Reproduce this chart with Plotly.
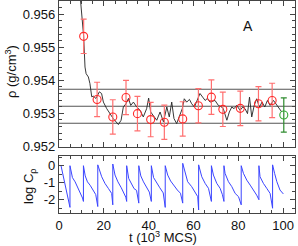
import plotly.graph_objects as go
from plotly.subplots import make_subplots

# ---- data: density trace (black) ----
rho_t = [8.6, 9.5, 10.3, 11.0, 11.6, 12.1, 13.1, 13.8, 14.6, 15.3, 16.5, 18.0, 19.0, 19.8,
         21.3, 22.8, 24.2, 26.5, 27.7, 28.7, 29.9, 31.0, 32.0, 33.2, 34.7, 36.2, 37.6,
         39.1, 40.0, 40.9, 42.1, 43.6, 45.1, 46.6, 48.1, 49.2, 50.3, 51.3, 52.5, 53.7,
         55.0, 55.9, 57.0, 58.2, 59.2, 60.4, 61.7, 62.9, 64.1, 65.2, 66.2, 67.4, 69.6,
         71.1, 72.6, 73.3, 74.9, 76.0, 77.1, 78.1, 79.3, 80.8, 82.0, 83.0, 84.1, 85.0,
         86.0, 87.1, 88.2, 89.4, 90.6, 91.8, 93.0, 94.2, 95.7, 97.2, 98.3, 99.4]
rho_v = [0.9572, 0.9564, 0.9558, 0.95533, 0.9544, 0.9542, 0.9541, 0.9539, 0.9535, 0.95352,
         0.95345, 0.95365, 0.9536, 0.95334, 0.95314, 0.95299, 0.95284, 0.95266, 0.95279,
         0.95319, 0.95329, 0.95345, 0.95324, 0.95334, 0.95319, 0.95309, 0.95289, 0.95314,
         0.95346, 0.95304, 0.95294, 0.95279, 0.95304, 0.95274, 0.95319, 0.95289, 0.95334,
         0.95284, 0.95269, 0.95294, 0.95314, 0.95344, 0.95334, 0.95342, 0.95329, 0.95319,
         0.95339, 0.9536, 0.95349, 0.95339, 0.95345, 0.95334, 0.95339, 0.95324, 0.95319,
         0.95314, 0.95279, 0.95304, 0.95319, 0.95314, 0.95324, 0.95309, 0.95319, 0.95314,
         0.95299, 0.95349, 0.95289, 0.95324, 0.95344, 0.95319, 0.95334, 0.95319, 0.95339,
         0.95324, 0.95339, 0.95324, 0.95314, 0.95304]

# ---- block averages (red) and final (green) ----
blk_t = [11.0, 17.0, 24.0, 29.9, 35.0, 40.9, 47.0, 55.2, 62.2, 68.0, 73.1, 80.9, 89.0, 95.1]
blk_v = [0.95533, 0.95342, 0.95289, 0.95348, 0.95299, 0.95281, 0.95273, 0.95283,
         0.95323, 0.95349, 0.95312, 0.95315, 0.95329, 0.95339]
blk_err = [0.00052] * len(blk_t)
fin_t = [100.3]
fin_v = [0.95295]
fin_err = [0.00052]

# mean and +- std lines
mean_lines = [0.953727, 0.953212, 0.952697]

# ---- autocorrelation (blue) ----
c_t = [0.9, 2.5, 3.8, 4.9, 4.9, 6.0, 7.2, 8.2, 9.5, 10.5, 10.9,
       10.9, 11.7, 12.7, 13.9, 15.3, 16.4, 17.3,
       17.3, 19.05, 20.5, 22.0, 23.5, 24.0,
       24.0, 25.0, 26.3, 27.8, 29.0, 29.8, 30.2,
       30.2, 31.1, 32.3, 33.5, 34.6, 35.6,
       35.6, 36.5, 37.7, 39.0, 40.3, 41.2,
       41.2, 42.2, 43.5, 45.0, 46.5, 47.4,
       47.4, 48.5, 49.8, 51.3, 52.8, 54.2, 55.2,
       55.2, 56.25, 57.4, 59.2, 60.7, 61.9, 62.3,
       62.3, 63.7, 65.2, 66.7, 67.4, 68.0,
       68.0, 68.9, 70.4, 71.9, 72.9, 73.6,
       73.6, 74.1, 75.6, 77.1, 78.6, 80.1, 81.3,
       81.3, 82.3, 83.8, 85.3, 86.8, 88.2, 89.2,
       89.2, 89.7, 91.2, 92.7, 94.2, 95.3,
       95.3, 96.2, 97.2, 98.6, 100.1]
c_v = [0.0, -1.0, -1.8, -2.45, 0.0, -0.7, -0.95, -1.25, -1.55, -1.9, -2.1,
       0.0, -0.6, -0.95, -1.15, -1.45, -1.7, -2.4,
       0.05, -0.65, -1.04, -1.33, -1.63, -2.3,
       0.1, -0.55, -0.95, -1.3, -1.6, -1.85, -2.1,
       0.0, -0.75, -1.1, -1.35, -1.45, -2.2,
       0.0, -0.6, -0.95, -1.25, -1.55, -2.1,
       0.0, -0.7, -1.0, -1.3, -1.6, -2.45,
       0.0, -0.55, -0.9, -1.2, -1.43, -1.62, -2.2,
       0.14, -0.35, -0.94, -1.23, -1.53, -1.82, -2.6,
       0.05, -0.65, -1.04, -1.33, -1.82, -2.1,
       0.0, -0.55, -1.04, -1.33, -1.7, -2.1,
       0.0, -0.45, -0.94, -1.23, -1.63, -1.82, -2.3,
       0.0, -0.45, -0.85, -1.14, -1.43, -1.73, -2.0,
       0.0, -0.65, -1.04, -1.33, -1.63, -2.5,
       0.05, -0.45, -0.94, -1.43, -1.66]

top_yticks = [0.952, 0.953, 0.954, 0.955, 0.956]
bot_yticks = [0, -1, -2]
bot_yticklabels = ["0", "-1", "-2"]
xticks = [0, 20, 40, 60, 80, 100]

FONT = "Liberation Sans, Arial, sans-serif"
FRAME = "#444444"

W, H = 298, 246
ml, mr, mt, mb = 59, 3, 1, 33
ph = H - mt - mb
pw = W - ml - mr
top_dom = [(H - mb - 147) / ph, 1.0]
bot_dom = [0.0, (H - mb - 156) / ph]

fig = make_subplots(rows=2, cols=1, shared_xaxes=False)

for v in mean_lines:
    fig.add_trace(go.Scatter(x=[0, 105.3], y=[v, v], mode="lines",
                             line=dict(color="#555555", width=1.1),
                             showlegend=False, hoverinfo="skip"), row=1, col=1)

fig.add_trace(go.Scatter(x=rho_t, y=rho_v, mode="lines",
                         line=dict(color="#222222", width=0.9),
                         showlegend=False), row=1, col=1)

fig.add_trace(go.Scatter(x=blk_t, y=blk_v, mode="markers",
                         marker=dict(symbol="circle-open", size=8, color="#ff2a2a",
                                     line=dict(width=1.1, color="#ff2a2a")),
                         error_y=dict(type="data", array=blk_err, color="#ff7070",
                                      thickness=1.2, width=3),
                         showlegend=False), row=1, col=1)

fig.add_trace(go.Scatter(x=fin_t, y=fin_v, mode="markers",
                         marker=dict(symbol="circle-open", size=8, color="#33aa33",
                                     line=dict(width=1.1, color="#33aa33")),
                         error_y=dict(type="data", array=fin_err, color="#2e8b2e",
                                      thickness=1.2, width=3),
                         showlegend=False), row=1, col=1)

fig.add_trace(go.Scatter(x=c_t, y=c_v, mode="lines",
                         line=dict(color="#3b45ff", width=1),
                         showlegend=False), row=2, col=1)

axis_common = dict(showline=True, linecolor=FRAME, linewidth=1.2, mirror="allticks",
                   ticks="inside", ticklen=5, tickwidth=1, tickcolor=FRAME,
                   showgrid=False, zeroline=False,
                   tickfont=dict(family=FONT, size=13, color="#111111"))

fig.update_xaxes(**axis_common)
fig.update_yaxes(**axis_common)

fig.update_xaxes(range=[0, 105.3], tickvals=xticks, showticklabels=False,
                 minor=dict(dtick=5, ticklen=3, ticks="inside", tickcolor=FRAME),
                 domain=[0, 1], row=1, col=1)
fig.update_xaxes(range=[0, 105.3], tickvals=xticks, showticklabels=True,
                 minor=dict(dtick=5, ticklen=3, ticks="inside", tickcolor=FRAME),
                 domain=[0, 1], row=2, col=1)
fig.update_yaxes(range=[0.95198, 0.9564], tickvals=top_yticks,
                 ticktext=[f"{v:.3f}" for v in top_yticks],
                 minor=dict(dtick=0.0002, ticklen=3, ticks="inside", tickcolor=FRAME),
                 domain=top_dom, row=1, col=1)
fig.update_yaxes(range=[-2.78, 0.57], tickvals=bot_yticks, ticktext=bot_yticklabels,
                 minor=dict(dtick=0.5, ticklen=3, ticks="inside", tickcolor=FRAME),
                 domain=bot_dom, row=2, col=1)

ann = dict(xref="paper", yref="paper", showarrow=False, xanchor="center",
           yanchor="middle")
fig.add_annotation(text="A", x=(248 - ml) / pw, y=1 - (26 - mt) / ph,
                   font=dict(family=FONT, size=14, color="#111111"), **ann)
fig.add_annotation(text="ρ (g/cm<sup>3</sup>)", x=(11 - ml) / pw, y=1 - (72 - mt) / ph,
                   textangle=-90, font=dict(family=FONT, size=13, color="#111111"), **ann)
fig.add_annotation(text="log C<sub>ρ</sub>", x=(29 - ml) / pw, y=1 - (186 - mt) / ph,
                   textangle=-90, font=dict(family=FONT, size=13, color="#111111"), **ann)
fig.add_annotation(text="t (10<sup>3</sup> MCS)", x=(163 - ml) / pw, y=1 - (237 - mt) / ph,
                   font=dict(family=FONT, size=13, color="#111111"), **ann)

fig.update_layout(width=W, height=H, margin=dict(l=ml, r=mr, t=mt, b=mb),
                  paper_bgcolor="white", plot_bgcolor="white")

fig.write_html("out.html", config={"displayModeBar": False},
               post_script="document.body.style.margin='0';document.body.style.padding='0';"
                           "document.body.style.overflow='hidden';")
